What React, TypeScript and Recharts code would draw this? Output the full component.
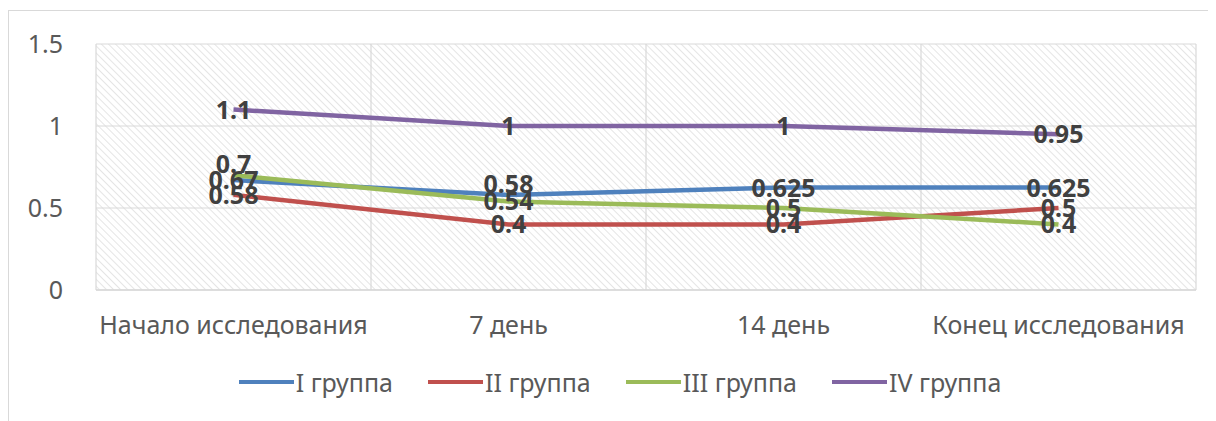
import { CartesianGrid, Line, LineChart, XAxis, YAxis } from "recharts";

// периоды наблюдения
const periods = ["Начало исследования", "7 день", "14 день", "Конец исследования"];

// значения по группам
const group1 = [0.67, 0.58, 0.625, 0.625];
const group2 = [0.58, 0.4, 0.4, 0.5];
const group3 = [0.7, 0.54, 0.5, 0.4];
const group4 = [1.1, 1, 1, 0.95];

const yTicks = [0, 0.5, 1, 1.5];

const series = [
  { key: "g1", name: "I группа", color: "#4F81BD", values: group1 },
  { key: "g2", name: "II группа", color: "#C0504D", values: group2 },
  { key: "g3", name: "III группа", color: "#9BBB59", values: group3 },
  { key: "g4", name: "IV группа", color: "#8064A2", values: group4 },
];

// подписи, сдвинутые вверх вручную (как в оригинале)
const labelLift: Record<string, number> = { "g3-0": 12, "g1-1": 12 };

const data = periods.map((p, i) => {
  const row: Record<string, string | number> = { period: p };
  series.forEach((s) => (row[s.key] = s.values[i]));
  return row;
});

const FONT = "'Noto Sans', sans-serif";

const makeLabel = (key: string) => (props: any) => {
  const { x, y, value, index } = props;
  const lift = labelLift[`${key}-${index}`] ?? 1;
  return (
    <text
      key={`${key}-${index}`}
      x={x}
      y={y - lift}
      textAnchor="middle"
      dominantBaseline="central"
      fontFamily={FONT}
      fontWeight={700}
      fontSize={25}
      fill="#404040"
    >
      {value}
    </text>
  );
};

export default function App() {
  return (
    <div style={{ position: "relative", width: 1208, height: 413, overflow: "hidden", fontFamily: FONT }}>
      <svg width={0} height={0} style={{ position: "absolute" }}>
        <defs>
          <pattern id="hatch" width={5} height={5} patternUnits="userSpaceOnUse" patternTransform="rotate(-45)">
            <line x1={0} y1={0} x2={0} y2={5} stroke="#dadada" strokeWidth={1.4} />
          </pattern>
        </defs>
      </svg>
      <div
        style={{
          position: "absolute",
          left: 0,
          top: 2,
          width: 1400,
          height: 600,
          border: "1px solid #d9d9d9",
          boxSizing: "border-box",
        }}
      />
      <div style={{ position: "absolute", left: 0, top: 0 }}>
        <LineChart width={1208} height={413} data={data} margin={{ top: 36, right: 20, left: 0, bottom: 0 }}>
          <CartesianGrid
            fill="url(#hatch)"
            fillOpacity={1}
            stroke="#d9d9d9"
            strokeWidth={1.2}
            verticalCoordinatesGenerator={({ offset }: any) =>
              [0, 1, 2, 3, 4].map((i) => offset.left + (i * offset.width) / 4)
            }
          />
          <XAxis
            dataKey="period"
            padding={{ left: 137.5, right: 137.5 }}
            height={131}
            tickLine={false}
            axisLine={{ stroke: "#d9d9d9", strokeWidth: 1.5 }}
            tick={{ fill: "#595959", fontSize: 25, fontFamily: FONT }}
            tickMargin={20}
            interval={0}
          />
          <YAxis
            domain={[0, 1.5]}
            ticks={yTicks}
            width={88}
            tickLine={false}
            axisLine={false}
            tickSize={0}
            tickMargin={33}
            tick={{ fill: "#595959", fontSize: 25, fontFamily: FONT }}
          />
          {series.map((s) => (
            <Line
              key={s.key}
              dataKey={s.key}
              name={s.name}
              stroke={s.color}
              strokeWidth={4.5}
              dot={false}
              activeDot={false}
              isAnimationActive={false}
              label={makeLabel(s.key)}
            />
          ))}
        </LineChart>
      </div>
      <div
        style={{
          position: "absolute",
          left: 0,
          width: 1224,
          top: 357,
          display: "flex",
          justifyContent: "center",
          gap: 35,
          fontSize: 25,
          color: "#595959",
        }}
      >
        {series.map((s) => (
          <div key={s.key} style={{ display: "flex", alignItems: "center" }}>
            <span style={{ display: "inline-block", width: 55, height: 4.5, background: s.color, marginRight: 2 }} />
            <span>{s.name}</span>
          </div>
        ))}
      </div>
    </div>
  );
}
